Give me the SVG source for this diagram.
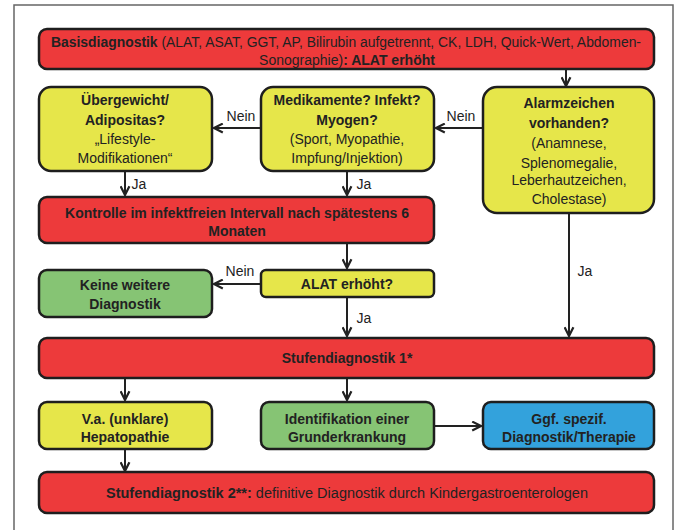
<svg xmlns="http://www.w3.org/2000/svg" width="678" height="530" viewBox="0 0 678 530">
<defs>
<marker id="ah" viewBox="0 0 10 10" refX="9" refY="5" markerWidth="5.5" markerHeight="5.5" orient="auto" markerUnits="strokeWidth">
<path d="M1,1 L9,5 L1,9" fill="none" stroke="#222" stroke-width="2"/>
</marker>
<style>
text{font-family:"Liberation Sans",Arial,sans-serif;font-size:14px;fill:#222;text-anchor:middle}
.b{font-weight:bold}
.l{font-size:14px}
.box{stroke:#1e1e1e;stroke-width:2.5}
.red{fill:#ED3A3B}
.yel{fill:#E6E64A}
.grn{fill:#86C474}
.blu{fill:#33A2DC}
.c{stroke:#222;stroke-width:2;fill:none;marker-end:url(#ah)}
</style>
</defs>
<rect x="0" y="0" width="678" height="530" fill="#fff"/>
<rect x="14" y="5" width="659" height="540" fill="none" stroke="#666" stroke-width="1.5"/>

<g id="connectors">
<path class="c" d="M566,69 V86"/>
<path class="c" d="M483,128 H436"/>
<path class="c" d="M261,128 H214"/>
<path class="c" d="M125,171 V195"/>
<path class="c" d="M347,171 V195"/>
<path class="c" d="M347,243 V268"/>
<path class="c" d="M261,284 H214"/>
<path class="c" d="M347,297 V336"/>
<path class="c" d="M569,213 V336"/>
<path class="c" d="M125,378 V400"/>
<path class="c" d="M347,378 V400"/>
<path class="c" d="M434,426 H481"/>
<path class="c" d="M125,449 V471"/>
<text class="l" x="241" y="121">Nein</text>
<text class="l" x="461" y="121">Nein</text>
<text class="l" x="139" y="189">Ja</text>
<text class="l" x="364" y="189">Ja</text>
<text class="l" x="240" y="276">Nein</text>
<text class="l" x="364" y="323">Ja</text>
<text class="l" x="585" y="276">Ja</text>
</g>

<g id="basis">
<rect class="box red" x="39" y="29" width="615" height="40" rx="8"/>
<text x="346" y="47" textLength="590" lengthAdjust="spacingAndGlyphs"><tspan class="b">Basisdiagnostik</tspan> (ALAT, ASAT, GGT, AP, Bilirubin aufgetrennt, CK, LDH, Quick-Wert, Abdomen-</text>
<text x="347" y="65"><tspan>Sonographie)</tspan><tspan class="b">: ALAT erhöht</tspan></text>
</g>

<g id="uebergewicht">
<rect class="box yel" x="39" y="87" width="173" height="84" rx="12"/>
<text class="b" x="125" y="105">Übergewicht/</text>
<text class="b" x="125" y="125">Adipositas?</text>
<text x="125" y="144">„Lifestyle-</text>
<text x="125" y="163">Modifikationen“</text>
</g>

<g id="medikamente">
<rect class="box yel" x="261" y="87" width="173" height="84" rx="12"/>
<text class="b" x="347" y="105">Medikamente? Infekt?</text>
<text class="b" x="347" y="125">Myogen?</text>
<text x="347" y="144">(Sport, Myopathie,</text>
<text x="347" y="163">Impfung/Injektion)</text>
</g>

<g id="alarm">
<rect class="box yel" x="483" y="87" width="171" height="126" rx="14"/>
<text class="b" x="569" y="108">Alarmzeichen</text>
<text class="b" x="569" y="128">vorhanden?</text>
<text x="569" y="148">(Anamnese,</text>
<text x="569" y="168">Splenomegalie,</text>
<text x="569" y="185">Leberhautzeichen,</text>
<text x="569" y="204">Cholestase)</text>
</g>

<g id="kontrolle">
<rect class="box red" x="39" y="197" width="395" height="46" rx="8"/>
<text class="b" x="237" y="218">Kontrolle im infektfreien Intervall nach spätestens 6</text>
<text class="b" x="237" y="236">Monaten</text>
</g>

<g id="keine">
<rect class="box grn" x="39" y="270" width="173" height="47" rx="8"/>
<text class="b" x="125" y="290">Keine weitere</text>
<text class="b" x="125" y="309">Diagnostik</text>
</g>

<g id="alat">
<rect class="box yel" x="261" y="270" width="173" height="27" rx="5"/>
<text class="b" x="347" y="289">ALAT erhöht?</text>
</g>

<g id="stufen1">
<rect class="box red" x="39" y="338" width="615" height="40" rx="8"/>
<text class="b" x="347" y="363">Stufendiagnostik 1*</text>
</g>

<g id="va">
<rect class="box yel" x="39" y="402" width="173" height="47" rx="8"/>
<text class="b" x="125" y="424">V.a. (unklare)</text>
<text class="b" x="125" y="442">Hepatopathie</text>
</g>

<g id="identifikation">
<rect class="box grn" x="261" y="402" width="173" height="47" rx="8"/>
<text class="b" x="347" y="424">Identifikation einer</text>
<text class="b" x="347" y="442">Grunderkrankung</text>
</g>

<g id="ggf">
<rect class="box blu" x="483" y="402" width="171" height="47" rx="8"/>
<text class="b" x="569" y="424">Ggf. spezif.</text>
<text class="b" x="569" y="442">Diagnostik/Therapie</text>
</g>

<g id="stufen2">
<rect class="box red" x="39" y="472" width="615" height="41" rx="8"/>
<text x="347" y="498" textLength="482" lengthAdjust="spacingAndGlyphs"><tspan class="b">Stufendiagnostik 2**:</tspan> definitive Diagnostik durch Kindergastroenterologen</text>
</g>
</svg>
